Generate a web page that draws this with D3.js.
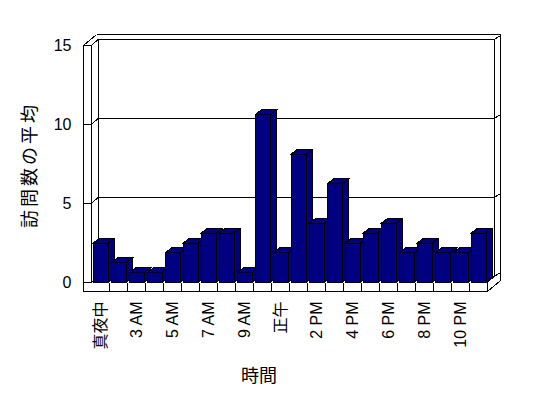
<html>
<script src="https://d3js.org/d3.v7.min.js"></script>
<style>
    body { margin: 0; background: #fff; }
    svg text { font-family: "Liberation Sans", "Noto Sans CJK JP", sans-serif; fill: #000; }
</style>
<body>
<div id="chart"></div>
<script>
    // hours shown on the chart (22 categories, every other one is labelled)
    var hours = ["真夜中", "1 AM", "3 AM", "4 AM", "5 AM", "6 AM", "7 AM", "8 AM", "9 AM", "10 AM", "正午",
                 "1 PM", "2 PM", "3 PM", "4 PM", "5 PM", "6 PM", "7 PM", "8 PM", "9 PM", "10 PM", "11 PM"];
    // average number of visits per hour
    var visits = [2.5, 1.25, 0.625, 0.625, 1.875, 2.5, 3.125, 3.125, 0.625, 10.625, 1.875,
                  8.125, 3.75, 6.25, 2.5, 3.125, 3.75, 1.875, 2.5, 1.875, 1.875, 3.125];
    var yTicks = [0, 5, 10, 15];
    var yTitle = "訪問数の平均";
    var xTitle = "時間";

    var width = 548, height = 398;
    var svg = d3.select("#chart").append("svg")
        .attr("width", width)
        .attr("height", height)
        .style("shape-rendering", "crispEdges");

    // front plane scales
    var x = d3.scaleBand().domain(hours).range([91.5, 487.5]);
    var y = d3.scaleLinear().domain([0, 15]).range([282.5, 45.5]);

    // oblique depth offsets: back wall inner face, bars, back wall outer face
    var inner = [6.5, -6], barD = [6.5, -5], outer = [13, -11];
    var wallL = 83.5, floorBottom = 291.5;
    var x0 = x.range()[0], x1 = x.range()[1];

    function line(p, q) {
        svg.append("line")
            .attr("x1", p[0]).attr("y1", p[1]).attr("x2", q[0]).attr("y2", q[1])
            .attr("stroke", "#000").attr("stroke-width", 1);
    }

    // back wall outline
    var yTop = y(15), yBase = y(0);
    line([wallL, yTop], [wallL + outer[0], yTop + outer[1]]);
    line([wallL + outer[0], yTop + outer[1]], [x1 + outer[0], yTop + outer[1]]);
    line([x1 + outer[0], yTop + outer[1]], [x1 + outer[0], floorBottom + outer[1]]);
    line([x1 + outer[0], floorBottom + outer[1]], [x1, floorBottom]);
    line([x1, yBase], [x1 + inner[0], yBase + inner[1]]);
    line([x0 + inner[0], yTop + inner[1]], [x0 + inner[0], yBase + inner[1]]);
    line([x1 + inner[0], yTop + inner[1]], [x1 + inner[0], yBase + inner[1]]);

    // gridlines on the back wall and tick marks on the left wall
    yTicks.forEach(function(t) {
        var yy = y(t);
        line([x0 + inner[0], yy + inner[1]], [x1 + inner[0], yy + inner[1]]);
        line([x1 + inner[0], yy + inner[1]], [x1 + outer[0], yy + outer[1] + 1]);
        line([wallL, yy], [x0, yy]);
        line([x0, yy], [x0 + inner[0], yy + inner[1]]);
    });

    // left wall front face
    line([wallL, yTop], [wallL, floorBottom]);
    line([x0, yTop], [x0, yBase]);

    // floor front face with category cells
    line([wallL, floorBottom], [x1, floorBottom]);
    line([x1, yBase], [x1, floorBottom]);
    hours.forEach(function(h) {
        line([x(h) + x.bandwidth(), yBase], [x(h) + x.bandwidth(), floorBottom]);
    });

    // 3D columns
    var bw = x.bandwidth() * 15 / 18, boff = x.bandwidth() * 1.7 / 18;
    var bars = svg.append("g").selectAll("g")
        .data(hours.map(function(h, i) { return { hour: h, value: visits[i] }; }))
        .enter().append("g");
    bars.append("polygon")
        .attr("points", function(d) {
            var l = x(d.hour) + boff, r = l + bw, t = y(d.value);
            return [[l, t], [l + barD[0], t + barD[1]], [r + barD[0], t + barD[1]], [r, t]].join(" ");
        });
    bars.append("polygon")
        .attr("points", function(d) {
            var r = x(d.hour) + boff + bw, t = y(d.value);
            return [[r, t], [r + barD[0], t + barD[1]], [r + barD[0], yBase + barD[1]], [r, yBase]].join(" ");
        });
    bars.append("rect")
        .attr("x", function(d) { return x(d.hour) + boff; })
        .attr("y", function(d) { return y(d.value); })
        .attr("width", bw)
        .attr("height", function(d) { return yBase - y(d.value); });
    bars.selectAll("polygon, rect")
        .attr("fill", "#000080")
        .attr("stroke", "#000")
        .attr("stroke-width", 1);

    // y axis labels
    var yAxis = svg.append("g")
        .attr("transform", "translate(" + wallL + ",0)")
        .call(d3.axisLeft(y).tickValues(yTicks).tickSize(0).tickPadding(12));
    yAxis.select(".domain").remove();
    yAxis.selectAll("text").style("font-size", "16px").attr("fill", "#000");

    // x axis labels, every other hour, rotated
    var xAxis = svg.append("g")
        .attr("transform", "translate(0," + floorBottom + ")")
        .call(d3.axisBottom(x).tickValues(hours.filter(function(h, i) { return i % 2 == 0; })).tickSize(0));
    xAxis.select(".domain").remove();
    xAxis.selectAll("text")
        .style("font-size", "16px")
        .attr("fill", "#000")
        .attr("text-anchor", "end")
        .attr("transform", "rotate(-90)")
        .attr("x", -10)
        .attr("y", 0)
        .attr("dy", "0.35em");

    // axis titles
    svg.append("text")
        .attr("transform", "translate(30,165) rotate(-90)")
        .attr("text-anchor", "middle")
        .attr("dy", "0.35em")
        .style("font-size", "18px")
        .style("letter-spacing", "3px")
        .text(yTitle);
    svg.append("text")
        .attr("x", 259)
        .attr("y", 376)
        .attr("text-anchor", "middle")
        .attr("dy", "0.35em")
        .style("font-size", "18px")
        .text(xTitle);
</script>
</body>
</html>
